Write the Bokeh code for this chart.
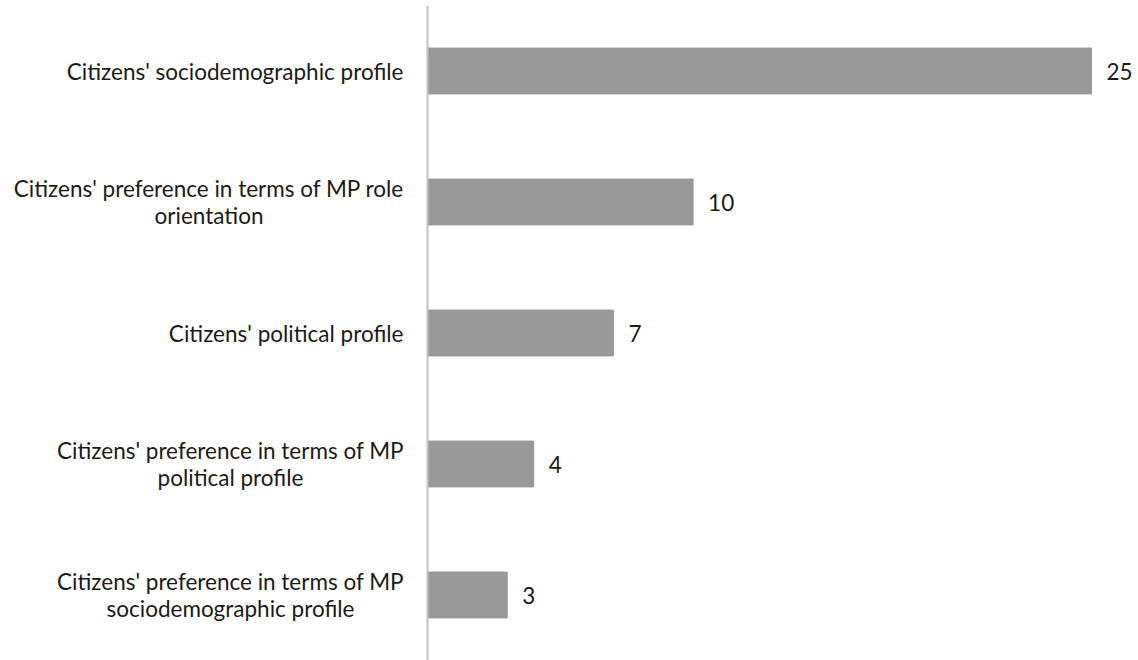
from bokeh.plotting import figure
from bokeh.models import ColumnDataSource, FactorRange, Range1d, Span
from bokeh.embed import file_html
from bokeh.resources import INLINE

categories = [
    "Citizens' sociodemographic profile",
    "Citizens' preference in terms of MP role\norientation",
    "Citizens' political profile",
    "Citizens' preference in terms of MP\npolitical profile",
    "Citizens' preference in terms of MP\nsociodemographic profile",
]
values = [25, 10, 7, 4, 3]

FONT = "Lato"
FS = "22.5px"
GAP = 24  # px between label block and axis line
# approximate rendered width (px) of the first line of each wrapped label,
# used to centre the wrapped lines under one another as in the source chart
first_line_px = {categories[1]: 389, categories[3]: 346, categories[4]: 346}

# horizontal layout: label area on the left, value axis (0 .. 26.77) on the right
W, H = 1138, 660
AXIS_X = 427                      # pixel position of the zero line
X_MAX = 26.77
px_per_unit = (W - AXIS_X) / X_MAX
X_MIN = -AXIS_X / px_per_unit

src = ColumnDataSource(dict(cat=categories, val=values, lab=[str(v) for v in values]))

single = [c for c in categories if "\n" not in c]
wrapped = [c for c in categories if "\n" in c]
src_single = ColumnDataSource(dict(cat=single, x0=[0] * len(single)))
src_wrapped = ColumnDataSource(dict(
    cat=wrapped, x0=[0] * len(wrapped),
    off=[-(GAP + first_line_px[c] / 2) for c in wrapped]))

p = figure(
    width=W, height=H,
    y_range=FactorRange(factors=categories[::-1], range_padding=0),
    x_range=Range1d(X_MIN, X_MAX),
    x_axis_location=None, y_axis_location=None,
    output_backend="svg", toolbar_location=None,
    min_border_left=0, min_border_top=5, min_border_bottom=0, min_border_right=0,
)
p.outline_line_color = None
p.xgrid.visible = False
p.ygrid.visible = False
p.background_fill_color = "white"
p.border_fill_color = "white"

p.add_layout(Span(location=0, dimension="height", line_color="#c4c4c4", line_width=2))

p.hbar(y="cat", right="val", left=0, height=0.35, source=src,
       fill_color="#999999", line_color="#999999")
p.text(x="val", y="cat", text="lab", source=src, x_offset=15,
       text_align="left", text_baseline="middle",
       text_font={"value": FONT}, text_font_size=FS, text_color="#1a1a1a")

# category labels
p.text(x="x0", y="cat", text="cat", source=src_single, x_offset=-GAP,
       text_align="right", text_baseline="middle",
       text_font={"value": FONT}, text_font_size=FS, text_color="#1a1a1a")
p.text(x="x0", y="cat", text="cat", source=src_wrapped, x_offset="off",
       text_align="center", text_baseline="middle", text_line_height=1.03,
       text_font={"value": FONT}, text_font_size=FS, text_color="#1a1a1a")

open("out.html", "w").write(file_html(p, INLINE))
